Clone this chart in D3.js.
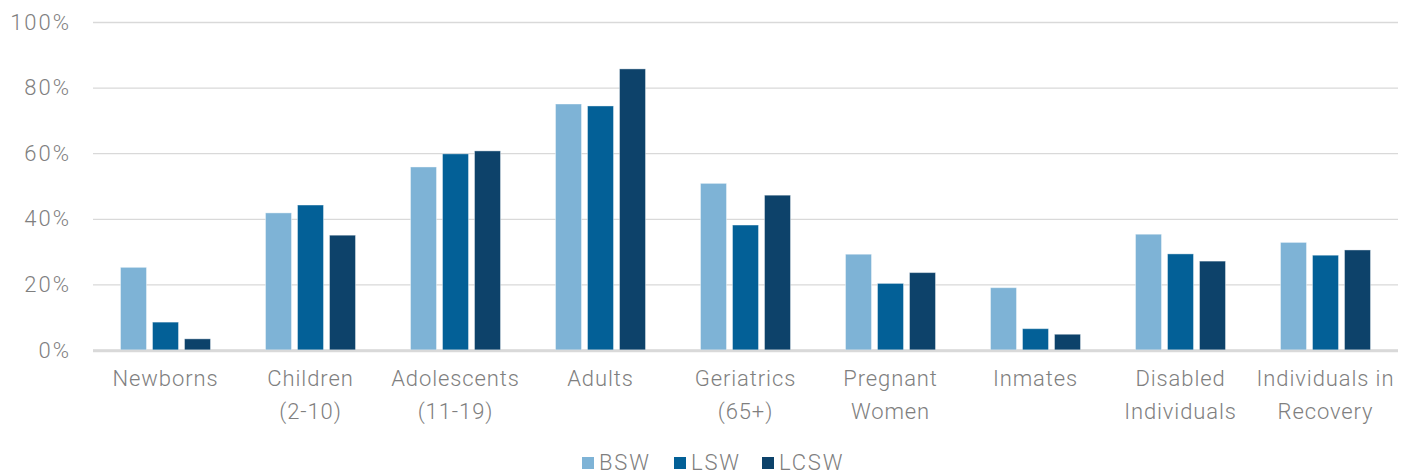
<!DOCTYPE html>
<html>
<head>
<meta charset="utf-8">
<script src="https://cdn.jsdelivr.net/npm/d3@7"></script>
<style>
  body { margin: 0; background: #fff; }
  text { font-family: Roboto, "Liberation Sans", sans-serif; font-weight: 300; fill: #7f7f7f; }
</style>
</head>
<body>
<svg id="chart"></svg>
<script>
// categories, one array of lines per label
var categories = [
  ["Newborns"],
  ["Children", "(2-10)"],
  ["Adolescents", "(11-19)"],
  ["Adults"],
  ["Geriatrics", "(65+)"],
  ["Pregnant", "Women"],
  ["Inmates"],
  ["Disabled", "Individuals"],
  ["Individuals in", "Recovery"]
];
var series = ["BSW", "LSW", "LCSW"];
var colors = ["#7eb3d6", "#036097", "#0d426a"];

// percent values per series, same order as categories
var bsw  = [25.2, 41.8, 55.8, 75.0, 50.8, 29.2, 19.0, 35.3, 32.8];
var lsw  = [8.5, 44.2, 59.8, 74.4, 38.1, 20.3, 6.5, 29.3, 28.9];
var lcsw = [3.4, 35.0, 60.7, 85.7, 47.2, 23.6, 4.8, 27.1, 30.5];
var yTicks = [0, 20, 40, 60, 80, 100];

var values = [bsw, lsw, lcsw];
var width = 1411, height = 475;

var svg = d3.select("#chart")
  .attr("width", width)
  .attr("height", height);

var margin = {left: 93, right: 13, top: 22, bottom: 125};

var x = d3.scaleBand()
  .domain(d3.range(categories.length))
  .range([margin.left, width - margin.right]);

var xSub = d3.scaleBand()
  .domain(series)
  .range([0, 90])
  .paddingInner(0.1875);

var y = d3.scaleLinear()
  .domain([0, 100])
  .range([height - margin.bottom, margin.top]);

// grid lines
var grid = svg.append("g")
  .attr("transform", "translate(" + margin.left + ",0)")
  .call(d3.axisLeft(y).tickValues(yTicks)
    .tickSize(-(width - margin.left - margin.right))
    .tickFormat(function(d) { return d + "%"; }));
grid.select(".domain").remove();
grid.selectAll(".tick line")
  .attr("stroke", "#d9d9d9")
  .attr("stroke-width", function(d) { return d === 0 ? 2.5 : 1.3; });
grid.selectAll(".tick text")
  .attr("x", -22)
  .style("font-size", "22px")
  .style("letter-spacing", "2px")
  .style("fill", "#7f7f7f");

// bars
series.forEach(function(s, si) {
  svg.append("g").selectAll("rect")
    .data(values[si])
    .enter().append("rect")
    .attr("x", function(d, i) { return x(i) + (x.bandwidth() - 90) / 2 + xSub(s); })
    .attr("width", xSub.bandwidth())
    .attr("y", function(d) { return y(d); })
    .attr("height", function(d) { return y(0) - y(d); })
    .attr("fill", colors[si])
    .attr("stroke", "#ffffff")
    .attr("stroke-opacity", 0.4)
    .attr("stroke-width", 1);
});

// re-draw base line on top of bars
svg.append("line")
  .attr("x1", margin.left).attr("x2", width - margin.right)
  .attr("y1", y(0) + 1).attr("y2", y(0) + 1)
  .attr("stroke", "#d9d9d9")
  .attr("stroke-width", 2.5);

// category labels
var labels = svg.append("g").selectAll("text")
  .data(categories)
  .enter().append("text")
  .attr("text-anchor", "middle")
  .attr("y", 386)
  .style("font-size", "22px")
  .style("letter-spacing", "0.9px");
labels.selectAll("tspan")
  .data(function(d, i) { return d.map(function(t) { return {t: t, i: i}; }); })
  .enter().append("tspan")
  .attr("x", function(d) { return x(d.i) + x.bandwidth() / 2; })
  .attr("dy", function(d, j) { return j === 0 ? 0 : 33; })
  .text(function(d) { return d.t; });

// legend
var legendX = [582, 674, 762];
var legend = svg.append("g").selectAll("g")
  .data(series)
  .enter().append("g")
  .attr("transform", function(d, i) { return "translate(" + legendX[i] + ",457)"; });
legend.append("rect")
  .attr("width", 12).attr("height", 12)
  .attr("fill", function(d, i) { return colors[i]; });
legend.append("text")
  .attr("x", 17).attr("y", 13)
  .style("font-size", "22px")
  .style("letter-spacing", "1.8px")
  .text(function(d) { return d; });
</script>
</body>
</html>
